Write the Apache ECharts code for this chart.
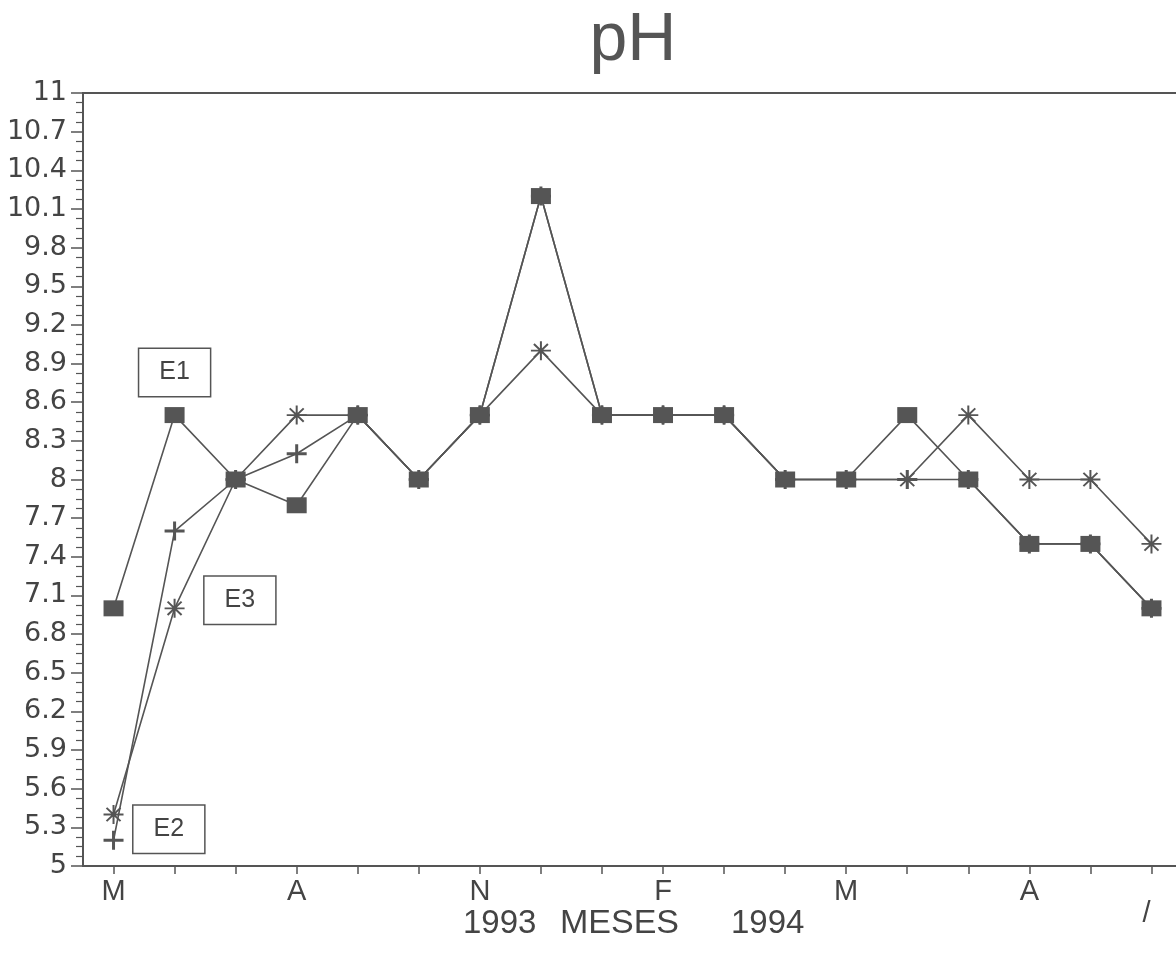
<!DOCTYPE html>
<html>
<head>
<meta charset="utf-8">
<script src="https://cdn.jsdelivr.net/npm/echarts@6/dist/echarts.min.js"></script>
<style>
  html, body { margin: 0; padding: 0; background: #fff; }
  #chart { width: 1176px; height: 956px; }
</style>
</head>
<body>
<div id="chart"></div>
<script>
// Months May 1993 .. Oct 1994
const months = ['May93','Jun93','Jul93','Aug93','Sep93','Oct93','Nov93','Dec93','Jan94','Feb94','Mar94','Apr94','May94','Jun94','Jul94','Aug94','Sep94','Oct94'];
const tickLabels = ['M','','','A','','','N','','','F','','','M','','','A','','/'];
const yTicks = { min: 5, max: 11, step: 0.3 };

const e1 = [7.0, 8.5, 8.0, 7.8, 8.5, 8.0, 8.5, 10.2, 8.5, 8.5, 8.5, 8.0, 8.0, 8.5, 8.0, 7.5, 7.5, 7.0];
const e2 = [5.2, 7.6, 8.0, 8.2, 8.5, 8.0, 8.5, 10.2, 8.5, 8.5, 8.5, 8.0, 8.0, 8.0, 8.0, 7.5, 7.5, 7.0];
const e3 = [5.4, 7.0, 8.0, 8.5, 8.5, 8.0, 8.5, 9.0, 8.5, 8.5, 8.5, 8.0, 8.0, 8.0, 8.5, 8.0, 8.0, 7.5];

const seriesNames = ['E1', 'E2', 'E3'];

const INK = '#555';
const TEXT = '#444';

const asteriskPath = 'path://M0 9H20V11H0Z M9 0H11V20H9Z M2.3 3.7L3.7 2.3L17.7 16.3L16.3 17.7Z M16.3 2.3L17.7 3.7L3.7 17.7L2.3 16.3Z';
const plusPath = 'path://M0 8.5H20V11.5H0Z M8.5 0H11.5V20H8.5Z';

const boxLabel = {
  show: true,
  formatter: '{a}',
  color: TEXT,
  fontFamily: 'Liberation Sans, Arial, sans-serif',
  fontSize: 25,
  lineHeight: 25,
  backgroundColor: '#fff',
  borderColor: INK,
  borderWidth: 1.5,
  padding: [11, 20]
};

function withLabel(arr, idx, labelCfg) {
  return arr.map((v, i) => i === idx ? { value: v, label: Object.assign({}, boxLabel, labelCfg) } : v);
}

const chart = echarts.init(document.getElementById('chart'), null, { renderer: 'canvas' });

chart.setOption({
  backgroundColor: '#fff',
  animation: false,
  title: {
    text: 'pH',
    left: 628,
    top: 2,
    textAlign: 'center',
    textStyle: {
      fontFamily: 'Liberation Sans, Arial, sans-serif',
      fontSize: 68,
      fontWeight: 'normal',
      color: INK
    }
  },
  grid: {
    left: 83, top: 93, width: 1099, bottom: 90,
    containLabel: false,
    outerBoundsMode: 'none',
    show: true, borderColor: INK, borderWidth: 2, backgroundColor: 'transparent'
  },
  xAxis: {
    type: 'category',
    data: months,
    boundaryGap: true,
    axisLine: { lineStyle: { color: INK, width: 2 } },
    axisTick: { show: true, alignWithLabel: true, interval: 0, length: 8, lineStyle: { color: INK, width: 1.5 } },
    axisLabel: {
      interval: 0,
      margin: 11,
      formatter: (v, i) => tickLabels[i] === '/' ? '{s|/}' : tickLabels[i],
      color: TEXT,
      fontFamily: 'Liberation Sans, Arial, sans-serif',
      fontSize: 29,
      rich: { s: { fontSize: 29, color: TEXT, padding: [22, 10, 0, 0], fontFamily: 'Liberation Sans, Arial, sans-serif' } }
    },
    splitLine: { show: false }
  },
  yAxis: {
    type: 'value',
    min: yTicks.min,
    max: yTicks.max,
    interval: yTicks.step,
    axisLine: { show: true, lineStyle: { color: INK, width: 2 } },
    axisTick: { show: true, length: 12, lineStyle: { color: INK, width: 1.5 } },
    minorTick: { show: true, splitNumber: 4, length: 7, lineStyle: { color: INK, width: 1.2 } },
    axisLabel: {
      margin: 16,
      formatter: v => String(+v.toFixed(1)),
      color: TEXT,
      fontFamily: 'DejaVu Sans, sans-serif',
      fontSize: 27
    },
    splitLine: { show: false }
  },
  graphic: [
    { type: 'text', left: 463, top: 907, style: { text: '1993', fill: TEXT, font: '33px "Liberation Sans", Arial, sans-serif' } },
    { type: 'text', left: 560, top: 907, style: { text: 'MESES', fill: TEXT, font: '34px "Liberation Sans", Arial, sans-serif' } },
    { type: 'text', left: 731, top: 907, style: { text: '1994', fill: TEXT, font: '33px "Liberation Sans", Arial, sans-serif' } }
  ],
  series: [
    {
      name: seriesNames[1],
      type: 'line',
      data: withLabel(e2, 0, { position: 'right', distance: 10, offset: [0, -11] }),
      symbol: plusPath,
      symbolSize: [20, 19],
      lineStyle: { color: INK, width: 1.6 },
      itemStyle: { color: INK },
      z: 2
    },
    {
      name: seriesNames[2],
      type: 'line',
      data: withLabel(e3, 1, { position: 'right', distance: 20, offset: [0, -8] }),
      symbol: asteriskPath,
      symbolSize: [20, 19],
      lineStyle: { color: INK, width: 1.6 },
      itemStyle: { color: INK },
      z: 3
    },
    {
      name: seriesNames[0],
      type: 'line',
      data: withLabel(e1, 1, { position: 'top', distance: 11 }),
      symbol: 'rect',
      symbolSize: [20, 16],
      lineStyle: { color: INK, width: 1.6 },
      itemStyle: { color: INK },
      z: 4
    }
  ]
});
</script>
</body>
</html>
